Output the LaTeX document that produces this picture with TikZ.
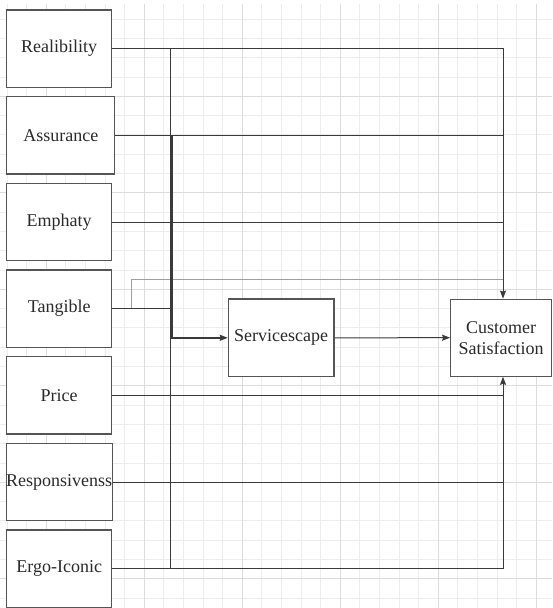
\documentclass[tikz,border=0pt]{standalone}
\usepackage{fontspec}
\setmainfont{Liberation Serif}
\usetikzlibrary{arrows.meta}
\definecolor{gridminor}{HTML}{EDEDED}
\definecolor{gridmajor}{HTML}{DCDCDC}
\definecolor{linecol}{HTML}{3A3A3A}
\definecolor{boxcol}{HTML}{555555}
\definecolor{txtcol}{HTML}{2A2A2A}
\tikzset{
  box/.style={draw=boxcol, fill=white, line width=1.2pt, minimum width=105pt, minimum height=77.3pt,
    inner sep=0pt, text=txtcol, font=\fontsize{18}{21}\selectfont, align=center},
  conn/.style={draw=linecol, line width=1pt},
  tip/.style={-{Stealth[length=8pt,width=6pt,inset=1pt]}}
}
\begin{document}
\begin{tikzpicture}[x=1pt,y=-1pt]
\useasboundingbox (0,0) rectangle (552,608);
\fill[white] (0,0) rectangle (552,608);
% grid
\foreach \k in {0,...,28} \draw[gridminor, line width=0.8pt] ({7+19.6*\k},4) -- ({7+19.6*\k},608);
\foreach \k in {0,...,30} \draw[gridminor, line width=0.8pt] (0,{19+19.3*\k}) -- (552,{19+19.3*\k});
\foreach \k in {2,7,...,27} \draw[gridmajor, line width=0.8pt] ({7+19.6*\k},4) -- ({7+19.6*\k},608);
\foreach \k in {4,9,...,29} \draw[gridmajor, line width=0.8pt] (0,{19+19.3*\k}) -- (552,{19+19.3*\k});

% nodes
\node[box] (rel) at (59.2,48.65) {Realibility};
\node[box, minimum width=108pt] (asr) at (60.85,135.35) {Assurance};
\node[box] (emp) at (59.2,222) {Emphaty};
\node[box] (tan) at (59.2,308.65) {Tangible};
\node[box] (pri) at (59.2,395.35) {Price};
\node[box] (res) at (59.2,482) {Responsivenss};
\node[box] (erg) at (59.2,568.65) {Ergo-Iconic};
\node[box, minimum width=105.7pt, minimum height=77.7pt] (svc) at (281.2,337.8) {Servicescape};
\node[box, minimum width=101pt, minimum height=77pt] (cs) at (501.2,337.7) {Customer\\Satisfaction};

% helper coordinates
\coordinate (colx) at (503,0);
\coordinate (vx) at (170,0);
\coordinate (ax) at (171.8,0);
\coordinate (tx) at (131.7,0);
\coordinate (tup) at (0,279.3);

% connectors
\draw[conn] (asr.east) -- (asr.east -| colx);
\draw[conn] (emp.east) -- (emp.east -| colx);
\draw[conn] (res.east) -- (res.east -| colx);
\draw[conn, draw=gray!75] (tan.east -| tx) -- (tx |- tup) -- (colx |- tup);
\draw[conn] (tan.east) -- (tan.east -| vx);
\draw[conn] (rel.east -| vx) -- (erg.east -| vx);
\draw[conn, line width=1.6pt, tip] (asr.east -| ax) -- (ax |- svc.west) -- (svc.west);
\draw[conn, tip] (rel.east) -- (rel.east -| colx) -- (colx |- cs.north);
\draw[conn, tip] (pri.east) -- (pri.east -| colx) -- (colx |- cs.south);
\draw[conn] (erg.east) -- (erg.east -| colx) -- (pri.east -| colx);
\draw[conn, tip] (svc.east) -- (cs.west);
\end{tikzpicture}
\end{document}
